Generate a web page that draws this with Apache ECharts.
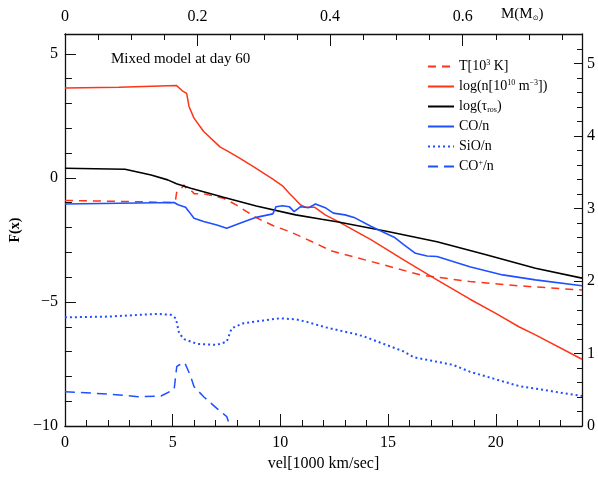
<!DOCTYPE html>
<html>
<head>
<meta charset="utf-8">
<script src="https://cdn.jsdelivr.net/npm/echarts@6/dist/echarts.min.js"></script>
<style>html,body{margin:0;padding:0;background:#fff}#c{width:598px;height:482px}</style>
</head>
<body>
<div id="c"></div>
<script>
// ---- data ----
const xTicks = [0, 5, 10, 15, 20];
const yTicksLeft = [-10, -5, 0, 5];
const yTicksRight = [0, 1, 2, 3, 4, 5];
const massTicks = [0, 0.2, 0.4, 0.6];

const tempX = [0, 2.8, 4.9, 5.13, 5.18, 5.3, 5.45, 5.52, 5.65, 5.91, 6.0, 6.44, 7.36, 7.97, 8.88, 9.65, 10.41, 11.17, 11.78, 12.39, 14.22, 16.5, 18.79, 21.07, 24];
const tempY = [-0.91, -0.95, -0.99, -0.92, -0.6, -0.45, -0.38, -0.28, -0.45, -0.55, -0.64, -0.64, -0.82, -1.1, -1.6, -1.92, -2.16, -2.45, -2.70, -2.95, -3.37, -3.91, -4.18, -4.35, -4.52];

const densX = [0, 2.5, 5.18, 5.45, 5.65, 5.76, 5.99, 6.44, 7.21, 7.51, 8.05, 8.73, 9.65, 10.1, 10.41, 10.64, 10.94, 11.17, 11.58, 12.08, 12.69, 14.22, 15.74, 17.27, 18.78, 20.0, 21.07, 21.84, 24];
const densY = [3.62, 3.65, 3.72, 3.51, 3.41, 2.88, 2.41, 1.87, 1.24, 1.10, 0.83, 0.46, -0.05, -0.32, -0.62, -0.82, -1.09, -1.18, -1.18, -1.49, -1.76, -2.50, -3.31, -4.11, -4.88, -5.46, -6.0, -6.33, -7.31];

const tauX = [0, 2.79, 4.0, 4.77, 5.18, 5.84, 7.36, 8.88, 10.71, 11.92, 12.69, 14.98, 17.27, 19.55, 21.84, 24];
const tauY = [0.39, 0.35, 0.12, -0.08, -0.24, -0.42, -0.78, -1.13, -1.49, -1.67, -1.78, -2.16, -2.57, -3.10, -3.64, -4.04];

const coX = [0, 5.07, 5.25, 5.6, 5.76, 5.99, 6.44, 7.05, 7.51, 8.12, 8.88, 9.65, 9.8, 10.1, 10.41, 10.64, 10.94, 11.32, 11.63, 12.08, 12.46, 13.0, 13.46, 14.22, 15.28, 15.74, 16.27, 16.81, 17.27, 18.79, 20.32, 21.84, 24];
const coY = [-1.05, -0.99, -1.08, -1.18, -1.36, -1.63, -1.76, -1.90, -2.03, -1.83, -1.59, -1.45, -1.16, -1.12, -1.16, -1.36, -1.16, -1.20, -1.05, -1.20, -1.42, -1.49, -1.61, -1.96, -2.39, -2.70, -3.04, -3.15, -3.17, -3.58, -3.91, -4.11, -4.35];

const sioX = [0, 2.02, 4.31, 4.92, 5.15, 5.3, 5.53, 6.14, 7.05, 7.51, 7.74, 8.28, 9.19, 9.95, 10.71, 11.17, 12.08, 13.46, 13.91, 15.74, 16.2, 18.03, 18.79, 21.07, 24];
const sioY = [-5.62, -5.59, -5.48, -5.52, -5.66, -6.26, -6.5, -6.69, -6.73, -6.6, -6.06, -5.86, -5.75, -5.66, -5.70, -5.79, -6.02, -6.29, -6.40, -7.0, -7.23, -7.54, -7.81, -8.39, -8.79];

const coplusX = [0, 2.02, 3.40, 4.46, 5.07, 5.19, 5.3, 5.39, 5.56, 5.68, 5.84, 5.99, 6.44, 7.05, 7.51, 7.66];
const coplusY = [-8.62, -8.71, -8.82, -8.79, -8.52, -7.61, -7.54, -7.62, -7.45, -7.68, -8.01, -8.41, -8.82, -9.29, -9.62, -10.0];

const seriesNames = ['T', 'n', 'tau', 'CO', 'SiO', 'COp'];
const legendLabels = {
  T: '{n|T[10}{sup|3}{n| K]}',
  n: '{n|log(n[10}{sup|10}{n| m}{sup|\u22123}{n|])}',
  tau: '{n|log(\u03c4}{sub|ros}{n|)}',
  CO: '{n|CO/n}',
  SiO: '{n|SiO/n}',
  COp: '{n|CO}{sup|+}{n|/n}'
};

// ---- chart ----
const RED = '#ff3318';
const BLUE = '#1f50ff';
const SERIF = "'Liberation Serif', 'DejaVu Serif', serif";
const zip = (xs, ys) => xs.map((x, i) => [x, ys[i]]);
const fmtNum = (list) => (v) => {
  const hit = list.some(t => Math.abs(t - v) < 1e-9);
  return hit ? String(v).replace('-', '\u2212') : '';
};
const axisLineStyle = { color: '#111', width: 1.3 };

const chart = echarts.init(document.getElementById('c'), null, { renderer: 'canvas' });

function lineSeries(name, xs, ys, color, type, width) {
  return {
    name, type: 'line', data: zip(xs, ys), xAxisIndex: 0, yAxisIndex: 0,
    symbol: 'none', showSymbol: false, clip: true, silent: true,
    lineStyle: { color, width: width || 1.5, type: type || 'solid' },
    itemStyle: { color }
  };
}

chart.setOption({
  animation: false,
  backgroundColor: '#fff',
  grid: { left: 56, right: 16, top: 34, bottom: 56 },
  title: {
    text: 'Mixed model at day 60', left: 106, top: 47,
    textStyle: { fontFamily: SERIF, fontSize: 15, fontWeight: 'normal', color: '#000' }
  },
  legend: {
    orient: 'vertical', left: 422, top: 54, itemWidth: 26, itemHeight: 12, itemGap: 5,
    data: seriesNames, selectedMode: false,
    itemStyle: { opacity: 0, borderWidth: 0 },
    formatter: (name) => legendLabels[name],
    textStyle: {
      fontFamily: SERIF, fontSize: 14, color: '#000', lineHeight: 15,
      rich: {
        n: { fontFamily: SERIF, fontSize: 14, color: '#000', lineHeight: 15 },
        sup: { fontFamily: SERIF, fontSize: 8, color: '#000', verticalAlign: 'top', lineHeight: 15, padding: [0, 0, 6, 0] },
        sub: { fontFamily: SERIF, fontSize: 8, color: '#000', verticalAlign: 'bottom', lineHeight: 15, padding: [5, 0, 0, 0] }
      }
    }
  },
  graphic: [{
    type: 'text', left: 501, top: 7,
    style: {
      text: '{n|M(M}{s|\u2299}{n|)}',
      rich: {
        n: { fontFamily: SERIF, fontSize: 15, fill: '#000' },
        s: { fontFamily: "'DejaVu Sans', sans-serif", fontSize: 7, fill: '#000', padding: [7, 0, 0, 0] }
      }
    }
  }],
  xAxis: [{
    type: 'value', position: 'bottom', min: 0, max: 24, interval: 5,
    name: 'vel[1000 km/sec]', nameLocation: 'middle', nameGap: 30,
    nameTextStyle: { fontFamily: SERIF, fontSize: 16, color: '#000' },
    axisLine: { onZero: false, lineStyle: axisLineStyle },
    axisTick: { inside: true, length: 12, lineStyle: { color: '#111', width: 1 } },
    minorTick: { show: true, splitNumber: 5, length: 6, lineStyle: { color: '#111', width: 1 } },
    axisLabel: { margin: 9, fontFamily: SERIF, fontSize: 16, color: '#000', formatter: fmtNum(xTicks), showMaxLabel: false },
    splitLine: { show: false }
  }, {
    type: 'value', position: 'top', min: 0, max: 0.78, interval: 0.2,
    axisLine: { onZero: false, lineStyle: axisLineStyle },
    axisTick: { inside: true, length: 12, lineStyle: { color: '#111', width: 1 } },
    minorTick: { show: true, splitNumber: 4, length: 6, lineStyle: { color: '#111', width: 1 } },
    axisLabel: { margin: 9, fontFamily: SERIF, fontSize: 16, color: '#000', formatter: fmtNum(massTicks) },
    splitLine: { show: false }
  }],
  yAxis: [{
    type: 'value', position: 'left', min: -10, max: 5.8, interval: 5,
    name: 'F(x)', nameLocation: 'middle', nameGap: 34, nameRotate: 90,
    nameTextStyle: { fontFamily: SERIF, fontSize: 14, fontWeight: 'bold', color: '#000' },
    axisLine: { onZero: false, lineStyle: axisLineStyle },
    axisTick: { inside: true, length: 11, lineStyle: { color: '#111', width: 1 } },
    minorTick: { show: true, splitNumber: 5, length: 7, lineStyle: { color: '#111', width: 1 } },
    axisLabel: { margin: 7, fontFamily: SERIF, fontSize: 16, color: '#000', formatter: fmtNum(yTicksLeft) },
    splitLine: { show: false }
  }, {
    type: 'value', position: 'right', min: 0, max: 5.41, interval: 1,
    axisLine: { onZero: false, lineStyle: axisLineStyle },
    axisTick: { inside: true, length: 8, lineStyle: { color: '#111', width: 1 } },
    minorTick: { show: true, splitNumber: 5, length: 5, lineStyle: { color: '#111', width: 1 } },
    axisLabel: { margin: 5, fontFamily: SERIF, fontSize: 16, color: '#000', formatter: fmtNum(yTicksRight) },
    splitLine: { show: false }
  }],
  series: [
    lineSeries('T', tempX, tempY, RED, [8, 6], 1.5),
    lineSeries('n', densX, densY, RED, 'solid', 1.5),
    lineSeries('tau', tauX, tauY, '#000', 'solid', 1.6),
    lineSeries('CO', coX, coY, BLUE, 'solid', 1.6),
    lineSeries('SiO', sioX, sioY, BLUE, [2, 3], 2),
    lineSeries('COp', coplusX, coplusY, BLUE, [10, 6], 1.5)
  ]
});
</script>
</body>
</html>
